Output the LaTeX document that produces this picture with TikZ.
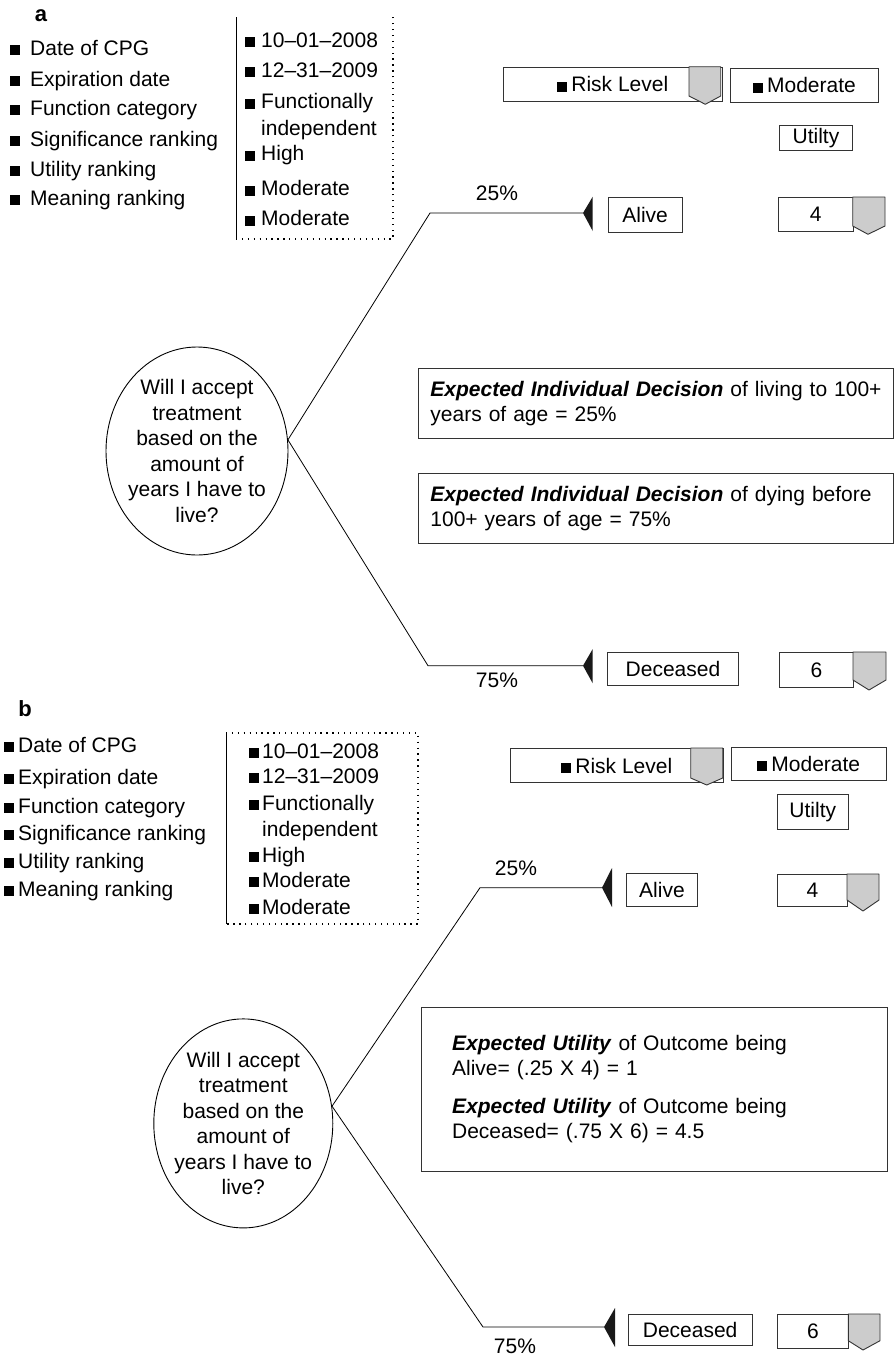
\documentclass[tikz,border=0pt]{standalone}
\usepackage{fontspec}
\setmainfont{Liberation Sans}
\usetikzlibrary{shapes.geometric}
\newcommand\fs{\fontsize{21}{25.5}\selectfont}
\newcommand\bl[1][5pt]{\rule{10pt}{10pt}\hspace{#1}}
\newcommand\bi[1]{\textbf{\textit{#1}}}
\begin{document}
\begin{tikzpicture}[x=1pt,y=-1pt,
  box/.style={draw=black!80, line width=0.9pt, inner sep=0pt, font=\fs, anchor=north west},
  itm/.style={anchor=base west, inner sep=0pt, font=\fs},
  lbl/.style={inner sep=0pt, font=\fs},
  tree/.style={draw=black, line width=0.8pt},
  flag/.style={fill=gray!40, draw=black!80, line width=0.9pt, line join=round},
  tri/.style={fill=black!90},
  dots/.style={draw=black, line width=1.3pt, dash pattern=on 1.3pt off 4.6pt},
  solidl/.style={draw=black, line width=0.9pt},
  oval/.style={ellipse, draw=black, line width=0.9pt, inner sep=-30pt, align=center, font=\fs},
  panel/.style={inner sep=0pt, font=\fontsize{22}{26}\selectfont\bfseries}
]
\useasboundingbox (0,0) rectangle (894,1355);

%================ PANEL A ================
\node[panel] (pa) at (41,16) {a};
% left list
\node[itm] (a1) at (10,55) {\bl[10pt]Date of CPG};
\node[itm] (a2) at (10,86) {\bl[10pt]Expiration date};
\node[itm] (a3) at (10,115) {\bl[10pt]Function category};
\node[itm] (a4) at (10,146) {\bl[10pt]Significance ranking};
\node[itm] (a5) at (10,176) {\bl[10pt]Utility ranking};
\node[itm] (a6) at (10,205) {\bl[10pt]Meaning ranking};
% right list
\draw[solidl] (236,17) -- (236,239);
\draw[dots] (236,239) -- (393,239) -- (393,17);
\node[itm] (b1) at (245,47) {\bl[6pt]10--01--2008};
\node[itm] (b2) at (245,77) {\bl[6pt]12--31--2009};
\node[itm] (b3) at (245,108.7) {\bl[6pt]Functionally};
\node[itm] (b3b) at (261,135.7) {independent};
\node[itm] (b4) at (245,160.7) {\bl[6pt]High};
\node[itm] (b5) at (245,195.7) {\bl[6pt]Moderate};
\node[itm] (b6) at (245,225.7) {\bl[6pt]Moderate};

% top right boxes
\node[box, minimum width=219.3pt, minimum height=34pt] (rla) at (502.7,66.7) {\bl[4pt]Risk Level\hspace{8pt}};
\path[flag] (689,66.7) -- (720.7,66.7) -- (720.7,96) -- (705.3,104.3) -- (689,96) -- cycle;
\node[box, minimum width=148pt, minimum height=33.7pt] (moa) at (730,68) {\bl[4pt]Moderate\hspace{12pt}};
\node[box, minimum width=73pt, minimum height=25pt] (uta) at (779,125) {Utilty};

% ellipse + tree
\node[oval, minimum width=182pt, minimum height=208pt] (ea) at (197,451)
  {Will I accept\\treatment\\based on the\\amount of\\years I have to\\live?};
\coordinate (ca1) at (430,213);
\coordinate (ta1) at (583,213);
\coordinate (ca2) at (428,665.7);
\coordinate (ta2) at (583,665.7);
\draw[tree] (ea.7) -- (ca1) -- (ta1);
\draw[tree] (ea.7) -- (ca2) -- (ta2);
\fill[tri] (ta1) -- (592.7,196.7) -- (592.7,231) -- cycle;
\fill[tri] (ta2) -- (592.7,649) -- (592.7,683.3) -- cycle;
\node[lbl] (pa25) at (497,193) {25\%};
\node[lbl] (pa75) at (497,680) {75\%};

\node[box, minimum width=74pt, minimum height=34.7pt] (ala) at (607.7,197) {Alive};
\node[box, minimum width=74.7pt, minimum height=34pt] (fa) at (778,197) {4};
\path[flag] (852.7,197) -- (885,197) -- (885,226) -- (868,234.3) -- (852.7,226) -- cycle;
\node[box, minimum width=131pt, minimum height=33pt] (dea) at (607,652) {Deceased};
\node[box, minimum width=74pt, minimum height=34.7pt] (sa) at (779,652) {6};
\path[flag] (853,652) -- (886,652) -- (886,680) -- (869,690) -- (853,680) -- cycle;

% text boxes
\node[box, minimum width=475pt, minimum height=70pt, text width=451pt, inner xsep=12pt, align=left] (ida) at (418,368)
  {\mbox{\bi{Expected Individual Decision} of living to 100+}\\years of age = 25\%};
\node[box, minimum width=475pt, minimum height=70pt, text width=451pt, inner xsep=12pt, align=left] (idb) at (418,473)
  {\mbox{\bi{Expected Individual Decision} of dying before}\\100+ years of age = 75\%};

%================ PANEL B ================
\node[panel] (pb) at (25,709) {b};
\node[itm] (c1) at (4,752) {\bl[4pt]Date of CPG};
\node[itm] (c2) at (4,784) {\bl[4pt]Expiration date};
\node[itm] (c3) at (4,813) {\bl[4pt]Function category};
\node[itm] (c4) at (4,840) {\bl[4pt]Significance ranking};
\node[itm] (c5) at (4,868) {\bl[4pt]Utility ranking};
\node[itm] (c6) at (4,896) {\bl[4pt]Meaning ranking};

\draw[solidl] (226,733) -- (226,924);
\draw[dots] (226,733) -- (418,733) -- (418,924) -- (226,924);
\node[itm] (d1) at (249,758) {\bl[3pt]10--01--2008};
\node[itm] (d2) at (249,783) {\bl[3pt]12--31--2009};
\node[itm] (d3) at (249,810) {\bl[3pt]Functionally};
\node[itm] (d3b) at (262,836) {independent};
\node[itm] (d4) at (249,862) {\bl[3pt]High};
\node[itm] (d5) at (249,887) {\bl[3pt]Moderate};
\node[itm] (d6) at (249,914) {\bl[3pt]Moderate};

\node[box, minimum width=212.7pt, minimum height=34.3pt] (rlb) at (510,748) {\bl[4pt]Risk Level\hspace{4pt}};
\path[flag] (690.7,748) -- (722.7,748) -- (722.7,778) -- (706.7,785) -- (690.7,778) -- cycle;
\node[box, minimum width=155.3pt, minimum height=33pt] (mob) at (730.7,747) {\bl[4pt]Moderate\hspace{8pt}};
\node[box, minimum width=71.3pt, minimum height=35.3pt] (utb) at (776.7,794) {Utilty};

\node[oval, minimum width=179pt, minimum height=209pt] (eb) at (243.3,1123.4)
  {Will I accept\\treatment\\based on the\\amount of\\years I have to\\live?};
\coordinate (cb1) at (480,887.7);
\coordinate (tb1) at (602,887.7);
\coordinate (cb2) at (483,1327);
\coordinate (tb2) at (604,1327);
\draw[tree] (eb.11) -- (cb1) -- (tb1);
\draw[tree] (eb.11) -- (cb2) -- (tb2);
\fill[tri] (tb1) -- (612,868) -- (612,907) -- cycle;
\fill[tri] (tb2) -- (615,1308) -- (615,1347) -- cycle;
\node[lbl] (pb25) at (516,868) {25\%};
\node[lbl] (pb75) at (515,1346) {75\%};

\node[box, minimum width=71pt, minimum height=33pt] (alb) at (626,873) {Alive};
\node[box, minimum width=70pt, minimum height=32pt] (fb) at (777,874) {4};
\path[flag] (847,874) -- (879,874) -- (879,900) -- (863,911) -- (847,900) -- cycle;
\node[box, minimum width=124pt, minimum height=31pt] (deb) at (627.7,1314) {Deceased};
\node[box, minimum width=71.6pt, minimum height=34pt] (sb) at (776.7,1314) {6};
\path[flag] (848.3,1314) -- (880,1314) -- (880,1340.7) -- (863,1350) -- (848.3,1340.7) -- cycle;

\node[box, minimum width=466pt, minimum height=164pt, text width=404pt, inner xsep=31pt, align=left] (eu) at (420.7,1006.7)
  {\bi{Expected Utility} of Outcome being\\Alive= (.25 X 4) = 1\\[12pt]\bi{Expected Utility} of Outcome being\\Deceased= (.75 X 6) = 4.5};
\end{tikzpicture}
\end{document}
